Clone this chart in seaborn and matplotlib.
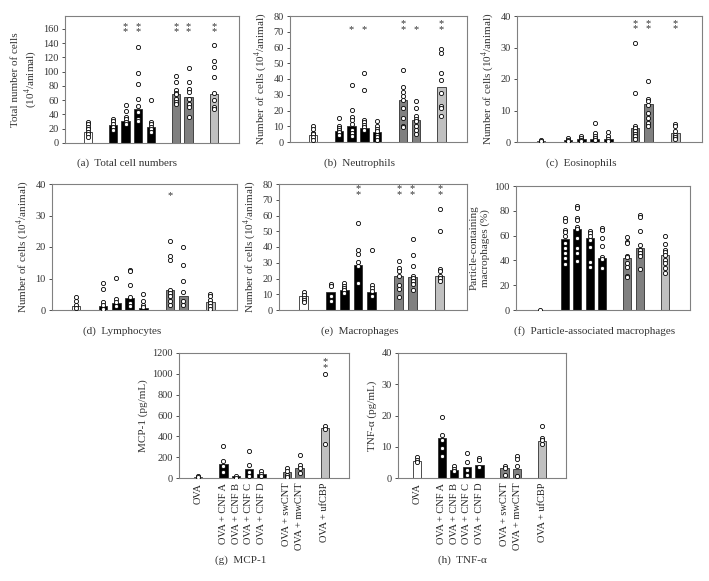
import matplotlib
matplotlib.use("Agg")
import matplotlib.pyplot as plt
import matplotlib.transforms as mtransforms
import seaborn as sns
import pandas as pd

groups = ["OVA", "OVA + CNF A", "OVA + CNF B", "OVA + CNF C", "OVA + CNF D",
          "OVA + swCNT", "OVA + mwCNT", "OVA + ufCBP"]
# spacer categories keep the gaps between particle families
order = ["OVA", " ", "OVA + CNF A", "OVA + CNF B", "OVA + CNF C", "OVA + CNF D",
         "  ", "OVA + swCNT", "OVA + mwCNT", "   ", "OVA + ufCBP"]
bar_colors = ["white", "black", "black", "black", "black", "#808080", "#808080", "#c0c0c0"]

total_bars = [16, 25, 31, 48, 23, 68, 65, 69]
total_pts = [[30, 27, 23, 20, 16, 13, 9], [34, 31, 26, 22, 18], [53, 45, 37, 33, 30, 26],
             [134, 98, 83, 61, 52, 44, 34, 31], [60, 30, 26, 22, 19, 15],
             [94, 86, 74, 70, 68, 62, 57, 54], [105, 86, 75, 72, 62, 54, 50, 36],
             [138, 115, 106, 92, 70, 60, 50, 47]]
total_stars = ["", "", "**", "**", "", "**", "**", "**"]

neut_bars = [4.7, 6.8, 10.4, 8.9, 6.4, 26.5, 14.2, 35]
neut_pts = [[10, 8.5, 6, 5, 3, 1.5], [15.3, 10, 8.9, 7.9, 6.4, 4.7],
            [35.9, 20.6, 15.9, 13.8, 11.7, 7.9, 5.7, 3.6], [43.5, 32.9, 14.2, 12.5, 11, 9.3, 7.4],
            [13.2, 10, 8.5, 6.8, 4.7, 3, 1.5], [46, 35, 31.6, 29, 26.5, 21.6, 15.3, 10.4, 9.3],
            [25.9, 21.6, 16.3, 14.6, 13.2, 10, 7.9, 5.3], [59.2, 56.2, 43.9, 39.3, 31.2, 23.1, 21.6, 16.3]]
neut_stars = ["", "", "*", "*", "", "**", "*", "**"]

eos_bars = [0.3, 0.5, 0.8, 0.8, 0.9, 4.4, 12, 2.8]
eos_pts = [[0.7, 0.2], [1.3, 0.7, 0.2], [2, 1.3, 0.7, 0.2], [6, 2.8, 2, 1.3, 0.7],
           [3.1, 1.8, 0.9, 0.3], [31.3, 15.5, 5, 4.4, 3.4, 2.6, 1.8, 0.9],
           [19.5, 13.7, 12.9, 11.8, 9.2, 7.6, 6, 5.2], [5.7, 5.2, 3.4, 2.3, 1.6, 0.9]]
eos_stars = ["", "", "", "", "", "**", "**", "**"]

lym_bars = [1.4, 1.4, 2.2, 3.7, 0.5, 6.2, 4.3, 2.4]
lym_pts = [[4, 2.7, 1.7, 0.6], [8.5, 6.8, 2.5, 1.7, 0.3], [10.3, 3.5, 2.5, 1.2],
           [12.8, 12.5, 8, 4, 2.2, 1.2], [5.2, 3, 1.7, 0.8],
           [22, 17.2, 15.9, 6.2, 5.4, 4.5, 2.7, 1.7], [20, 14.4, 9.1, 5.7, 2.7, 1.7],
           [5.2, 4.3, 3.3, 2.2, 1.2, 0.3]]
lym_stars = ["", "", "", "", "", "*", "", ""]

mac_bars = [8.7, 11.2, 12.9, 28.4, 11.6, 21.8, 21, 21.8]
mac_pts = [[11.2, 9.7, 7.6, 6.1, 4.9], [16.7, 15.4, 9.1, 5.5], [17.1, 15.4, 14, 12.5, 10.8],
           [55.2, 38.3, 35.8, 30.3, 27.7, 17.1], [38.3, 16.1, 14, 11.9, 9.1],
           [30.9, 26.7, 24.6, 21.8, 16.1, 13.5, 8], [45.3, 34.7, 27.7, 21.4, 20.3, 18.2, 16.7, 12.5],
           [64.1, 50.4, 26.2, 24.6, 21.8, 20.3, 18.2]]
mac_stars = ["", "", "", "**", "", "**", "**", "**"]

pam_bars = [0, 57, 65, 57.8, 42.2, 42.2, 49.7, 44.4]
pam_pts = [[0], [73.8, 71.9, 64.4, 63.1, 59.6, 54.3, 50.3, 45.7, 41.7, 36.9],
           [84, 82.6, 74.3, 72.5, 66.6, 65, 57.8, 49.7, 45.7, 39.6],
           [63.6, 61.8, 59.6, 56.4, 51, 39, 35], [65.8, 64.4, 58.3, 51.6, 43, 40.9, 33.7],
           [59.1, 55, 53.7, 43.6, 42.5, 38.2, 35, 27.5, 26.5],
           [76.5, 75.1, 63.6, 52.4, 48.4, 45.7, 43.9, 32.9],
           [59.9, 53.2, 48.4, 47, 44.4, 40.4, 37.7, 34.2, 30.2]]
pam_stars = [""] * 8

mcp_bars = [10, 134, 16, 90, 42, 54, 93, 480]
mcp_pts = [[22, 6], [304, 166, 112, 54], [16, 0], [256, 128, 54, 22], [64, 42, 16],
           [96, 64, 32, 10], [224, 122, 96, 48], [998, 502, 474, 330]]
mcp_stars = ["", "", "", "", "", "", "", "**"]

tnf_bars = [5.3, 12.8, 2.5, 3.5, 4.3, 3.2, 2.9, 11.7]
tnf_pts = [[6.6, 5.9, 5.1], [19.4, 13.8, 12.3, 9.6, 6.9], [3.7, 3, 2.1], [8, 5, 2.7, 1.1],
           [6.4, 5.7, 3.4], [3.7, 3.2, 1.1], [6.9, 6.2, 3.7, 0.5], [16.5, 12.8, 12.3, 10.9]]
tnf_stars = [""] * 8

sns.set_style("ticks")
plt.rcParams["font.family"] = ["Liberation Serif", "DejaVu Serif"]
plt.rcParams["mathtext.fontset"] = "stix"

W, H = 709, 581
fig = plt.figure(figsize=(W / 100, H / 100), dpi=100)


def panel(rect, bars, pts, stars, ylim, ytop, step, ylabel, caption, cap_xy, star_y,
          xlim=(-1.8, 12.0), show_x=False):
    l, t, r, b = rect
    ax = fig.add_axes([l / W, 1 - b / H, (r - l) / W, (b - t) / H])

    bar_df = pd.DataFrame({"group": groups, "value": bars})
    pt_df = pd.DataFrame({"group": [g for g, p in zip(groups, pts) for _ in p],
                          "value": [v for p in pts for v in p]})

    sns.barplot(data=bar_df, x="group", y="value", order=order, hue="group",
                palette=dict(zip(groups, bar_colors)), legend=False, width=0.65,
                edgecolor="#303030", linewidth=0.6, ax=ax)
    sns.stripplot(data=pt_df, x="group", y="value", order=order, jitter=False,
                  color="white", edgecolor="black", linewidth=0.6, size=3.0, ax=ax)

    # significance marks, stacked vertically like the original
    tr = mtransforms.offset_copy(ax.transData, fig=fig, y=-3.5, units="points")
    for g, s in zip(groups, stars):
        if s:
            ax.text(order.index(g), star_y, "\n".join(s), transform=tr, ha="center",
                    va="bottom", fontsize=7.5, linespacing=0.55, color="#333333")

    ax.set_xlim(*xlim)
    ax.set_ylim(*ylim)
    ax.set_yticks(range(0, ytop + 1, step))
    ax.tick_params(axis="y", labelsize=7.5, length=2.5, width=0.6, pad=2, colors="#333333")
    ax.tick_params(axis="x", length=0)
    ax.set_xlabel("")
    ax.set_ylabel(ylabel, fontsize=8, color="#333333", labelpad=3)
    if show_x:
        ax.set_xticks(range(len(order)))
        ax.set_xticklabels(order, rotation=90, fontsize=7.5, color="#222222")
    else:
        ax.set_xticklabels([])
    for sp in ax.spines.values():
        sp.set_color("#808080")
        sp.set_linewidth(0.8)
    fig.text(cap_xy[0] / W, 1 - cap_xy[1] / H, caption, ha="center", va="center",
             fontsize=8, color="#333333")
    return ax


cells = "Number of cells (10$^{4}$/animal)"
panel((65, 16, 239, 143), total_bars, total_pts, total_stars, (0, 178), 160, 20,
      "Total number of cells\n(10$^{4}$/animal)", "(a)  Total cell numbers", (127, 163), 156)
panel((290, 16, 467, 142), neut_bars, neut_pts, neut_stars, (0, 80), 80, 10,
      cells, "(b)  Neutrophils", (359, 163), 71.8)
panel((517, 16, 702, 142), eos_bars, eos_pts, eos_stars, (0, 40), 40, 10,
      cells, "(c)  Eosinophils", (581, 163), 36)
panel((52, 184, 237, 310), lym_bars, lym_pts, lym_stars, (0, 40), 40, 10,
      cells, "(d)  Lymphocytes", (122, 331), 36.3)
panel((279, 184, 467, 310), mac_bars, mac_pts, mac_stars, (0, 80), 80, 10,
      cells, "(e)  Macrophages", (360, 331), 73.7)
panel((516, 186, 690, 310), pam_bars, pam_pts, pam_stars, (0, 100), 100, 20,
      "Particle-containing\nmacrophages (%)", "(f)  Particle-associated macrophages",
      (595, 331), 90, xlim=(-1.9, 12.0))
panel((179, 353, 349, 478), mcp_bars, mcp_pts, mcp_stars, (0, 1200), 1200, 200,
      "MCP-1 (pg/mL)", "(g)  MCP-1", (241, 560), 1060, xlim=(-1.5, 11.9), show_x=True)
panel((398, 353, 566, 478), tnf_bars, tnf_pts, tnf_stars, (0, 40), 40, 10,
      "TNF-α (pg/mL)", "(h)  TNF-α", (462, 560), 36, xlim=(-1.5, 11.9), show_x=True)

fig.savefig("out.png", dpi=100)
